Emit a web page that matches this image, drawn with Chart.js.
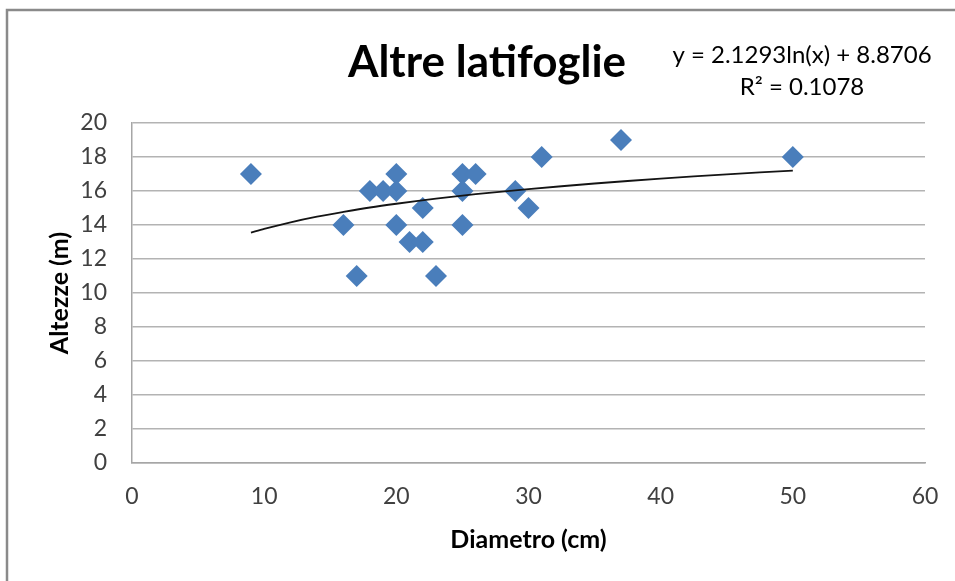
<!DOCTYPE html>
<html lang="it">
<head>
    <meta charset="utf-8">
    <script src="https://cdn.jsdelivr.net/npm/chart.js"></script>
    <title>Altre latifoglie</title>
    <style>
        html, body { margin: 0; padding: 0; background: #fff; }
        #wrap { width: 955px; height: 581px; position: relative; }
    </style>
</head>
<body>
    <div id="wrap"><canvas id="chart" width="955" height="581"></canvas></div>
    <script>
        // diametro (cm) / altezza (m)
        var diametri = [9, 16, 17, 18, 19, 20, 20, 20, 21, 22, 22, 23, 25, 25, 25, 26, 29, 30, 31, 37, 50];
        var altezze  = [17, 14, 11, 16, 16, 17, 16, 14, 13, 15, 13, 11, 17, 16, 14, 17, 16, 15, 18, 19, 18];

        // linea di tendenza logaritmica
        var trendX = [9, 10, 12, 14, 16, 18, 20, 23, 26, 30, 35, 40, 45, 50];
        var trendY = [13.55, 13.77, 14.16, 14.49, 14.77, 15.03, 15.25, 15.55, 15.81, 16.11, 16.44, 16.73, 16.98, 17.20];

        var titolo = "Altre latifoglie";
        var equazione = ["y = 2.1293ln(x) + 8.8706", "R² = 0.1078"];
        var xTitolo = "Diametro (cm)";
        var yTitolo = "Altezze (m)";

        var font = "Lato, 'Open Sans', sans-serif";

        var punti = diametri.map(function(d, i) { return { x: d, y: altezze[i] }; });
        var trend = trendX.map(function(d, i) { return { x: d, y: trendY[i] }; });

        var testi = {
            id: "testi",
            beforeDraw: function(chart) {
                var ctx = chart.ctx;
                ctx.save();
                ctx.strokeStyle = "#8a8a8a";
                ctx.lineWidth = 2.5;
                ctx.beginPath();
                ctx.moveTo(7, 581);
                ctx.lineTo(7, 10);
                ctx.lineTo(955, 10);
                ctx.stroke();
                ctx.restore();
            },
            afterDraw: function(chart) {
                var ctx = chart.ctx;
                ctx.save();
                ctx.fillStyle = "#000";
                ctx.textAlign = "center";
                ctx.textBaseline = "middle";
                ctx.font = "bold 44px " + font;
                ctx.fillText(titolo, 487, 63);
                ctx.font = "24px " + font;
                ctx.fillText(equazione[0], 802, 55);
                ctx.fillText(equazione[1], 802, 87);
                ctx.restore();
            }
        };

        new Chart(document.getElementById("chart"), {
            type: "scatter",
            data: {
                datasets: [
                    {
                        label: "Tendenza",
                        data: trend,
                        showLine: true,
                        borderColor: "#141414",
                        borderWidth: 1.8,
                        pointRadius: 0,
                        tension: 0.3,
                        fill: false
                    },
                    {
                        label: "Altre latifoglie",
                        data: punti,
                        pointStyle: "rectRot",
                        pointRadius: 11,
                        backgroundColor: "#4a7ebb",
                        borderColor: "#4a7ebb",
                        borderWidth: 0
                    }
                ]
            },
            options: {
                responsive: false,
                animation: false,
                layout: { padding: { left: 45, right: 30, top: 123, bottom: 26 } },
                plugins: {
                    legend: { display: false },
                    tooltip: { enabled: false }
                },
                scales: {
                    x: {
                        type: "linear",
                        min: 0,
                        max: 60,
                        ticks: { stepSize: 10, padding: 20, color: "#404040", font: { family: font, size: 23 } },
                        grid: { display: false, drawTicks: false },
                        border: { display: true, color: "#a6a6a6", width: 1.5 },
                        title: { display: true, text: xTitolo, color: "#000", padding: 0, font: { family: font, size: 25, weight: "bold" } },
                        afterFit: function(s) { s.height = 92; s.paddingRight = 0; s.paddingLeft = 0; }
                    },
                    y: {
                        min: 0,
                        max: 20,
                        ticks: { stepSize: 2, padding: 25, color: "#404040", font: { family: font, size: 23 } },
                        grid: { color: "#b3b3b3", lineWidth: 1.5, drawTicks: false },
                        border: { display: true, color: "#a6a6a6", width: 1.5 },
                        title: { display: true, text: yTitolo, color: "#000", padding: 0, font: { family: font, size: 25, weight: "bold" } },
                        afterFit: function(s) { s.width = 87; }
                    }
                }
            },
            plugins: [testi]
        });
    </script>
</body>
</html>
